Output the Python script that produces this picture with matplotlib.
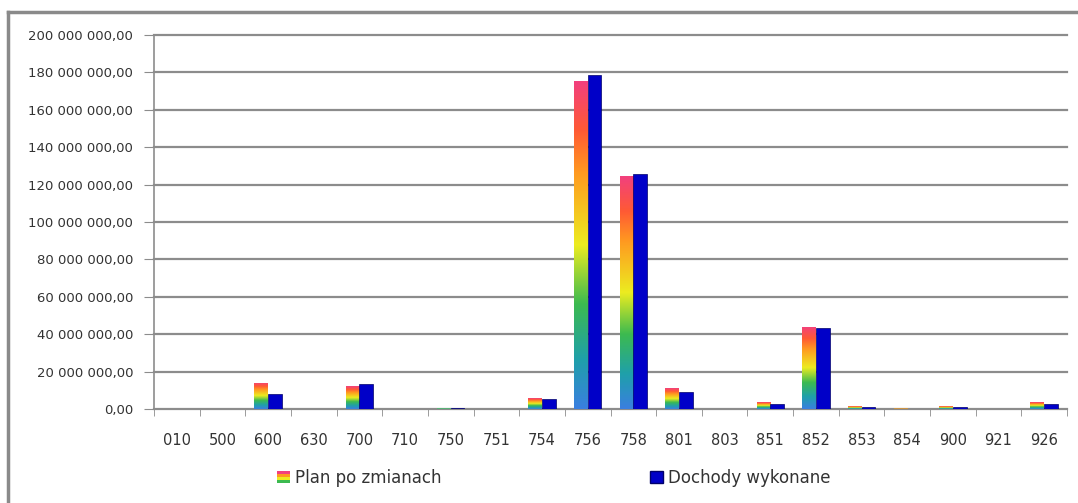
import numpy as np
import matplotlib
matplotlib.use("Agg")
import matplotlib.pyplot as plt
from matplotlib.colors import LinearSegmentedColormap
from matplotlib.patches import Rectangle
from matplotlib.legend_handler import HandlerBase
from matplotlib.lines import Line2D
from matplotlib.ticker import FuncFormatter, MultipleLocator

# values (PLN)
categories = ["010", "500", "600", "630", "700", "710", "750", "751", "754", "756",
              "758", "801", "803", "851", "852", "853", "854", "900", "921", "926"]
plan = [0.2e6, 0.2e6, 14.0e6, 0.0, 12.3e6, 0.2e6, 0.7e6, 0.0, 5.7e6, 175.4e6,
        124.6e6, 11.1e6, 0.0, 3.6e6, 44.0e6, 1.5e6, 0.3e6, 1.6e6, 0.2e6, 3.6e6]
wykonane = [0.0, 0.0, 8.0e6, 0.0, 13.3e6, 0.1e6, 0.6e6, 0.0, 5.2e6, 178.6e6,
            125.5e6, 8.9e6, 0.0, 2.7e6, 43.5e6, 0.8e6, 0.0, 0.9e6, 0.0, 2.5e6]
series_names = ["Plan po zmianach", "Dochody wykonane"]

rainbow = LinearSegmentedColormap.from_list(
    "rb", [(0.0, "#3a7fe0"), (0.15, "#1fa0aa"), (0.32, "#3cba50"),
           (0.5, "#ecec20"), (0.72, "#ff9a20"), (0.85, "#ff5a34"), (1.0, "#f2407e")])
blue = "#0000c8"
grid_c = "#8c8c8c"


def fmt(v, _):
    s = f"{v:,.2f}".replace(",", " ").replace(".", ",")
    return s


class GradientHandler(HandlerBase):
    def create_artists(self, legend, orig, xd, yd, w, h, fs, trans):
        cols = ["#3cba50", "#ecec20", "#ff9a20", "#f2407e"]
        arts = []
        for i, c in enumerate(cols):
            arts.append(Rectangle((xd, yd + i * h / len(cols)), w, h / len(cols),
                                  facecolor=c, edgecolor="none", transform=trans))
        return arts


fig = plt.figure(figsize=(10.78, 5.03), dpi=100)
ax = fig.add_axes([0.1429, 0.1869, 0.8469, 0.7435])

x = np.arange(len(categories))
w = 0.3
bars = ax.bar(x - w / 2, plan, w, color="none", edgecolor="none", zorder=3)
grad = np.linspace(0, 1, 256).reshape(-1, 1)
for b in bars:
    h = b.get_height()
    if h <= 0:
        continue
    im = ax.imshow(grad, cmap=rainbow, origin="lower", aspect="auto",
                   extent=[b.get_x(), b.get_x() + b.get_width(), 0, h], zorder=3)
    im.set_clip_path(b)
ax.bar(x + w / 2, wykonane, w, color=blue, edgecolor="#00006a", linewidth=0.5, zorder=3)

ax.set_xlim(-0.5, len(categories) - 0.5)
ax.set_ylim(0, 200e6)
ax.yaxis.set_major_locator(MultipleLocator(20e6))
ax.yaxis.set_major_formatter(FuncFormatter(fmt))
ax.grid(axis="y", color=grid_c, linewidth=1.6, zorder=1)
for gl in ax.yaxis.get_gridlines():
    gl.set_clip_on(False)
ax.set_xticks(x)
ax.set_xticklabels(categories, fontsize=10.5, color="#333333")
ax.set_xticks(np.arange(len(categories) + 1) - 0.5, minor=True)
ax.tick_params(axis="x", which="major", length=0, pad=17)
ax.tick_params(axis="x", which="minor", length=5, color=grid_c, direction="out")
ax.tick_params(axis="y", length=7, color=grid_c, labelsize=9.5, labelcolor="#333333", pad=8)
for s in ["top", "right"]:
    ax.spines[s].set_visible(False)
for s in ["left", "bottom"]:
    ax.spines[s].set_color(grid_c)
    ax.spines[s].set_linewidth(1.2)

# outer chart frame (left and top edges visible in the crop)
fig.add_artist(Line2D([8 / 1078, 8 / 1078], [0, 1 - 12 / 503], transform=fig.transFigure,
                      color="#8a8a8a", linewidth=2.5))
fig.add_artist(Line2D([8 / 1078, 1], [1 - 12 / 503, 1 - 12 / 503], transform=fig.transFigure,
                      color="#8a8a8a", linewidth=2.5))

h1 = Rectangle((0, 0), 1, 1)
h2 = Rectangle((0, 0), 1, 1, facecolor=blue, edgecolor="#00006a")
fig.legend([h1, h2], series_names, handler_map={h1: GradientHandler()},
           loc="center left", bbox_to_anchor=(262 / 1078, 1 - 478 / 503), ncol=2,
           frameon=False, fontsize=12, handlelength=0.75, handleheight=0.75,
           handletextpad=0.35, columnspacing=12.5,
           labelcolor="#333333")

fig.savefig("out.png", dpi=100)
